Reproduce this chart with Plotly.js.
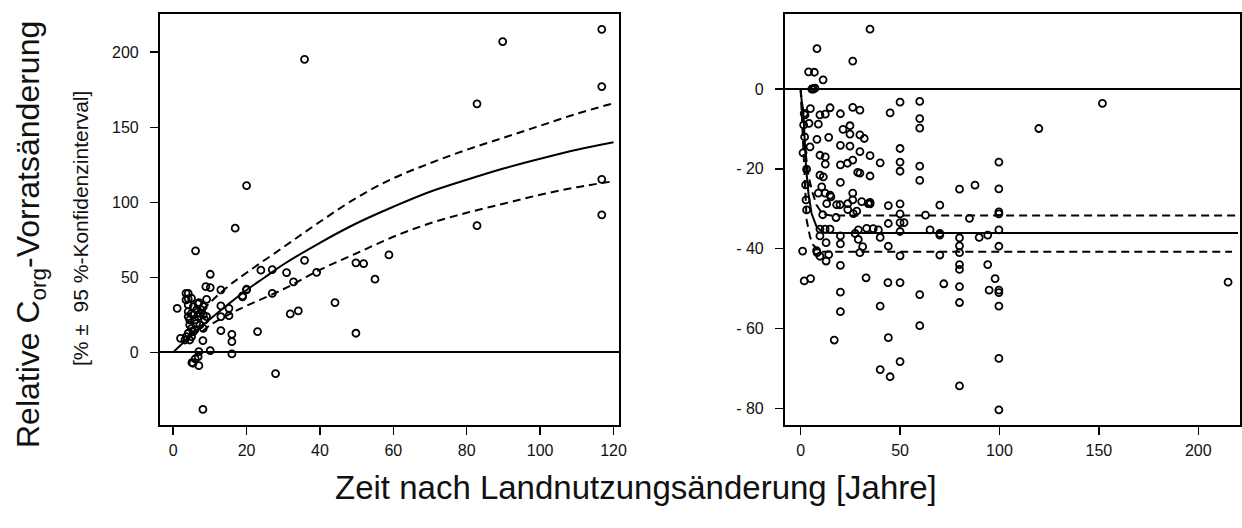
<!DOCTYPE html>
<html>
<head>
<meta charset="utf-8">
<script src="https://cdn.plot.ly/plotly-3.0.1.min.js"></script>
<style>html,body{margin:0;padding:0;background:#fff;}#chart{width:1242px;height:528px;}</style>
</head>
<body>
<div id="chart"></div>
<script>
// ---- Left panel: observed points ----
const leftX = [116.8,89.8,35.8,116.8,82.8,116.8,116.8,82.8,20,16.9,6.1,58.8,35.8,49.8,51.9,10.1,39.1,23.9,27,30.9,55,32.8,20,18.9,27,13,8.9,10.1,9.1,4.1,4.1,5,7,1.1,44.1,34.1,31.9,13,15.2,13,15.2,23,49.8,13,16,16,16,10.1,8.1,2,27.9,8.1,7,6.8,6,5.1,5.4,7,
  4.1,4.1,4.1,4.5,4.5,5,5.5,4.1,3.6,3.2,5,5.9,6.4,6.8,7.3,7.7,8.2,8.2,8.6,9.1,8.2,7.3,5.9,5.5,6.4,6.8,5,5.5,4.5,3.5,3.5,18.9,20];
const leftY = [215.3,207.1,195.3,177.1,165.6,115.3,91.6,84.4,111.1,82.7,67.6,64.9,61.3,59.6,59.1,52,53.3,54.7,55.1,53.1,48.7,46.9,41.6,37.6,39.3,41.6,43.8,43.1,35.3,39.3,35.6,36,33.1,29.3,33.1,27.6,25.6,30.9,29.3,23.8,24.4,13.8,12.7,14.4,12,7.1,-1.1,1.1,7.8,9.3,-14.2,-38,0.4,-2.9,-4.4,-6.9,-7.3,-8.9,
  31.6,27.1,23.8,21.6,18.2,16,13.8,12.7,10.4,8.2,10.4,14.9,19.3,23.8,26,28.2,30.4,24.9,21.6,23.8,16,18.2,21.6,24.9,28.2,32.2,26,30.4,8.2,39.3,34.9,37,42];

// ---- Left panel: fitted curve and 95 % confidence band ----
const fitLeftX = [0,5,10,15,20,25,30,40,50,60,70,80,90,100,110,120];
const fitLeftY = [0,11.5,22,32,41.5,50,58.5,73,86,97,107,115,122.5,129,135,140];
const ciLeftX = [8,10,15,20,30,40,50,60,70,80,90,100,110,120];
const ciLeftUpper = [28,33,44,53,70,87,103,116,126,135,143,151,159,166];
const ciLeftLower = [14,18,25,31,42,55,66,77,86,93,99,105,110,114];

// ---- Right panel: observed points ----
const rightX = [34.9,8.2,26.2,4,6.9,11.3,5.6,6.4,7.2,
  50,59.9,151.8,59.9,59.9,45,119.8,
  50,50,50,59.9,59.9,
  99.7,99.7,79.9,87.7,99.7,99.7,99.7,99.7,99.7,99.7,99.7,99.7,99.7,
  79.9,79.9,79.9,79.9,79.9,79.9,79.9,79.9,
  70,62.8,65.1,70,70,70,72,84.9,89.8,94.1,94.1,97.8,94.8,
  59.9,59.9,
  50,50,50,52,50,50,50,50,
  44.1,44.1,44.1,43.9,44.1,45,40,40,32.9,
  40,34.9,34.9,34.9,
  29.8,26.2,
  29.8,32,29.8,29.8,28.7,26.2,23.5,
  24.8,21.3,24.8,24.8,
  20,20,20,20,
  14.8,12.4,9.7,14.1,
  4.9,1.8,4.2,8.9,8.2,
  9.7,12.4,12.4,11.4,9.7,
  3,4.7,2.2,1.5,2,1.2,
  26.2,26.2,23.7,23.7,28.2,30.7,34,34.9,
  18.1,19.8,17.8,26.5,11.1,2.7,3,2.5,
  9.7,12.3,14.8,29,33.2,36.5,39.1,40,
  9.7,20,20,12.8,27.4,29,31.2,29.8,
  8,8.3,9.7,12.8,14.1,1,1.8,5,
  20,20,20,16.9,
  14.8,12.3,10.6,8.9,13.1,15.2,215];
const rightY = [15,10.1,7,4.3,4.2,2.3,0,0,0.2,
  -3.3,-3.1,-3.6,-7.4,-9.8,-6,-9.9,
  -14.9,-18.3,-20.6,-19.3,-22.9,
  -18.3,-25,-25.1,-24.1,-30.8,-31.3,-35.3,-39.4,-50.4,-51,-54.4,-67.5,-80.4,
  -37.3,-39.3,-41,-44,-45.2,-49.5,-53.5,-74.4,
  -29.1,-31.6,-35.3,-36.2,-36.6,-41.6,-48.8,-32.4,-37.2,-36.6,-44,-47.5,-50.4,
  -51.5,-59.3,
  -28.8,-31.3,-33.5,-33.5,-35.7,-41.8,-48.5,-68.3,
  -29.2,-33.7,-39.4,-48.5,-62.3,-72.1,-70.3,-54.4,-47.3,
  -18.5,-21.8,-16.7,-28.4,
  -5.3,-4.6,
  -11.5,-12.4,-15.7,-21.1,-20.9,-17.8,-18.6,
  -9.2,-10.1,-11.3,-14.3,
  -6.2,-14.1,-19,-23.4,
  -4.7,-6.3,-6.5,-12.1,
  -4.9,-6.1,-8.6,-8.8,-12.6,
  -16.6,-17,-18.8,-22,-21.6,
  -20.1,-14.5,-6.5,-9,-12,-16,
  -26.1,-27.8,-28.7,-30.2,-30.6,-28.2,-28.7,-28.8,
  -29,-29,-32.2,-31.2,-31.5,-27.8,-30.3,-24,
  -35.1,-35.1,-35.1,-35.3,-34.9,-35,-35.3,-37.2,
  -36.8,-36.8,-38.8,-38.5,-36.2,-37.7,-39.5,-41,
  -40.5,-41,-41.9,-43.1,-41.5,-40.6,-48.1,-47.5,
  -44.2,-50.9,-55.8,-62.9,
  -26.6,-26.1,-24.5,-26.1,-28.7,-27,-48.4];

// ---- Right panel: fitted curve and 95 % confidence band ----
const fitRightX = [0,0.5,1.3,2,2.7,3.9,5.5,8,11.4,20,220];
const fitRightY = [0,-3,-5.3,-13,-19.5,-26.1,-31.2,-34.5,-36,-36.1,-36.1];
const ciRightUpperX = [0,2,4,6,8,11,15,220];
const ciRightUpper = [0,-14,-22,-26,-29.1,-31.3,-31.7,-31.7];
const ciRightLowerX = [0,1,2,3,4.7,6.3,9.7,217];
const ciRightLower = [0,-10,-22,-32.8,-37,-39.1,-40.8,-40.8];

// ---- Tick labels ----
const leftXTicks = [0,20,40,60,80,100,120];
const leftYTicks = [0,50,100,150,200];
const rightXTicks = [0,50,100,150,200];
const rightYTicks = [0,-20,-40,-60,-80];
const rightYTickText = ['0','- 20','- 40','- 60','- 80'];

const FONT = 'Liberation Sans, Arial, sans-serif';
const marker = {symbol:'circle-open', size:7, color:'#000', line:{width:1.8, color:'#000'}};
const solid = {color:'#000', width:2};
const dashed = {color:'#000', width:2, dash:'8px,5px'};

const traces = [
  {x:leftX, y:leftY, type:'scatter', mode:'markers', marker:marker, xaxis:'x', yaxis:'y', hoverinfo:'skip'},
  {x:fitLeftX, y:fitLeftY, type:'scatter', mode:'lines', line:Object.assign({shape:'spline'}, solid), xaxis:'x', yaxis:'y'},
  {x:ciLeftX, y:ciLeftUpper, type:'scatter', mode:'lines', line:Object.assign({shape:'spline'}, dashed), xaxis:'x', yaxis:'y'},
  {x:ciLeftX, y:ciLeftLower, type:'scatter', mode:'lines', line:Object.assign({shape:'spline'}, dashed), xaxis:'x', yaxis:'y'},
  {x:rightX, y:rightY, type:'scatter', mode:'markers', marker:marker, xaxis:'x2', yaxis:'y2', hoverinfo:'skip'},
  {x:fitRightX, y:fitRightY, type:'scatter', mode:'lines', line:solid, xaxis:'x2', yaxis:'y2'},
  {x:ciRightUpperX, y:ciRightUpper, type:'scatter', mode:'lines', line:dashed, xaxis:'x2', yaxis:'y2'},
  {x:ciRightLowerX, y:ciRightLower, type:'scatter', mode:'lines', line:dashed, xaxis:'x2', yaxis:'y2'}
];

const axisCommon = {
  showline:true, mirror:true, linecolor:'#000', linewidth:2,
  ticks:'outside', ticklen:8, tickwidth:1.5, tickcolor:'#000',
  showgrid:false, tickfont:{family:FONT, size:16, color:'#111'},
  fixedrange:true
};
const yDomain = [0.195, 0.9735];

const layout = {
  width:1242, height:528,
  margin:{l:0, r:0, t:0, b:0},
  paper_bgcolor:'#fff', plot_bgcolor:'#fff',
  showlegend:false,
  xaxis:Object.assign({}, axisCommon, {domain:[0.1288,0.4984], range:[-3.6,121.5], tickvals:leftXTicks, zeroline:false, anchor:'y', ticklabelstandoff:2}),
  yaxis:Object.assign({}, axisCommon, {domain:yDomain, range:[-48.5,225.5], tickvals:leftYTicks, zeroline:true, zerolinecolor:'#000', zerolinewidth:1.6, anchor:'x', ticklabelstandoff:8}),
  xaxis2:Object.assign({}, axisCommon, {domain:[0.632,0.9984], range:[-7.9,221], tickvals:rightXTicks, zeroline:false, anchor:'y2', ticklabelstandoff:2}),
  yaxis2:Object.assign({}, axisCommon, {domain:yDomain, range:[-84.2,18.8], tickvals:rightYTicks, ticktext:rightYTickText, zeroline:true, zerolinecolor:'#000', zerolinewidth:1.6, anchor:'x2', ticklabelstandoff:8}),
  annotations:[
    {text:'Relative C<sub>org</sub>-Vorratsänderung', xref:'paper', yref:'paper', x:30/1242, y:1-235/528, textangle:-90, showarrow:false, xanchor:'center', yanchor:'middle', font:{family:FONT, size:32, color:'#111'}},
    {text:'[% ±  95 %-Konfidenzinterval]', xref:'paper', yref:'paper', x:80/1242, y:1-229/528, textangle:-90, showarrow:false, xanchor:'center', yanchor:'middle', font:{family:FONT, size:21, color:'#111'}},
    {text:'Zeit nach Landnutzungsänderung [Jahre]', xref:'paper', yref:'paper', x:636/1242, y:1-487/528, showarrow:false, xanchor:'center', yanchor:'middle', font:{family:FONT, size:33, color:'#111'}}
  ]
};

Plotly.newPlot('chart', traces, layout, {staticPlot:true, displayModeBar:false});
</script>
</body>
</html>
